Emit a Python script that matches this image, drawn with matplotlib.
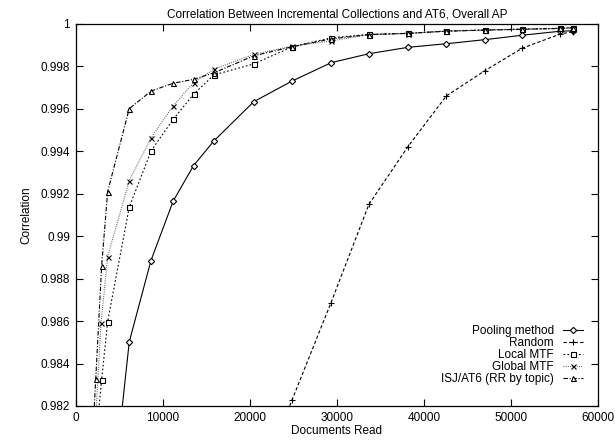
import matplotlib
matplotlib.use("Agg")
import matplotlib.pyplot as plt

plt.rcParams["font.family"] = ["Liberation Sans", "DejaVu Sans"]

# Documents read vs. correlation with the AT6 collection
pool_x = [3690, 6170, 8660, 11220, 13560, 15890, 20470, 24910, 29380,
          33700, 38170, 42580, 46970, 51290, 55690, 57100]
pool_y = [0.9756, 0.98502, 0.98885, 0.99166, 0.99333, 0.99449, 0.99634, 0.99732, 0.99818,
          0.9986, 0.9989, 0.99907, 0.99926, 0.99947, 0.99966, 0.99968]

rand_x = [20470, 24870, 29340, 33700, 38170, 42580, 46970, 51290, 55690, 57100]
rand_y = [0.9777, 0.98229, 0.98687, 0.99151, 0.99422, 0.99661, 0.99779, 0.99886, 0.99953, 0.99964]

local_x = [2320, 3000, 3690, 6170, 8690, 11220, 13560, 15890, 20470, 24910, 29380,
           33700, 38170, 42580, 46970, 51290, 55690, 57100]
local_y = [0.9804, 0.98323, 0.98598, 0.99137, 0.99403, 0.99551, 0.99669, 0.9976, 0.99812,
           0.99893, 0.99935, 0.99951, 0.99956, 0.99967, 0.99972, 0.99976, 0.9998, 0.99983]

global_x = [2320, 2930, 3690, 6170, 8690, 11220, 13560, 15890, 20470, 24910, 29380,
            33700, 38170, 42580, 46970, 51290, 55690, 57100]
global_y = [0.9815, 0.9859, 0.98904, 0.99261, 0.99465, 0.99614, 0.99724, 0.99787, 0.99857,
            0.99896, 0.9992, 0.9995, 0.99955, 0.99966, 0.99971, 0.99975, 0.99979, 0.99982]

isj_x = [1640, 2320, 3000, 3690, 6170, 8690, 11220, 13560, 15890, 20470, 24910, 29380,
         33700, 38170, 42580, 46970, 51290, 55690, 57100]
isj_y = [0.978, 0.98327, 0.9886, 0.9921, 0.99601, 0.99684, 0.99721, 0.99739, 0.9977, 0.9985,
         0.99893, 0.9993, 0.9995, 0.99956, 0.99966, 0.99971, 0.99975, 0.99979, 0.99982]

x_ticks = [0, 10000, 20000, 30000, 40000, 50000, 60000]
y_ticks = [0.982, 0.984, 0.986, 0.988, 0.99, 0.992, 0.994, 0.996, 0.998, 1]
y_ticklabels = ["0.982", "0.984", "0.986", "0.988", "0.99", "0.992", "0.994", "0.996", "0.998", "1"]

fig = plt.figure(figsize=(6.15, 4.41), dpi=100)
ax = fig.add_axes([0.1228, 0.0794, 0.8496, 0.8662])

fs = 8.5
lw = 0.8
ms = 3.6
common = dict(color="black", linewidth=lw, markersize=ms, markerfacecolor="white",
              markeredgecolor="black", markeredgewidth=0.8)

ax.plot(pool_x, pool_y, linestyle="-", marker="D", label="Pooling method",
        **{**common, "markersize": 3.2})
ax.plot(rand_x, rand_y, linestyle=(0, (3, 2)), marker="+", label="Random",
        **{**common, "markersize": 4})
ax.plot(local_x, local_y, linestyle=(0, (1.5, 2)), marker="s", label="Local MTF", **common)
ax.plot(global_x, global_y, linestyle=(0, (0.8, 1.2)), marker="x", label="Global MTF",
        **{**common, "color": "#555555"})
ax.plot(isj_x, isj_y, linestyle=(0, (4, 1.5, 1, 1.5)), marker="^", label="ISJ/AT6 (RR by topic)",
        **common)

ax.set_xlim(0, 60000)
ax.set_ylim(0.982, 1.0)
ax.set_xticks(x_ticks)
ax.set_xticklabels([str(v) for v in x_ticks])
ax.set_yticks(y_ticks)
ax.set_yticklabels(y_ticklabels)
ax.tick_params(direction="in", top=True, right=True, length=5, width=0.8, labelsize=fs, pad=4)
for s in ax.spines.values():
    s.set_linewidth(0.9)

ax.set_xlabel("Documents Read", fontsize=fs, labelpad=1)
ax.set_ylabel("Correlation", fontsize=fs, labelpad=6)
ax.set_title("Correlation Between Incremental Collections and AT6, Overall AP", fontsize=fs, pad=5)

leg = ax.legend(loc="lower right", bbox_to_anchor=(0.971, 0.055), markerfirst=False,
                frameon=False, fontsize=fs, handlelength=1.7, handletextpad=0.75,
                labelspacing=0.0, borderpad=0, borderaxespad=0)

fig.savefig("out.png", dpi=100)
